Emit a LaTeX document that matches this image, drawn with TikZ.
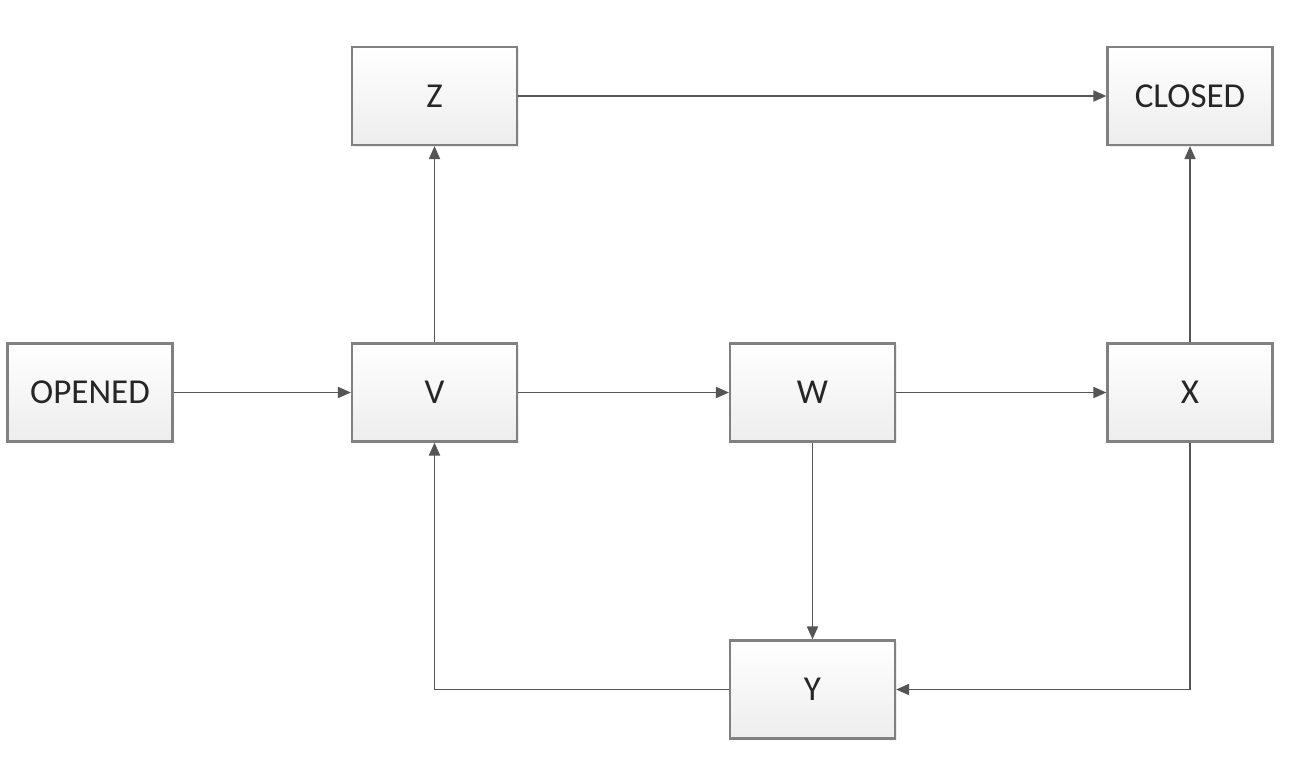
\documentclass[tikz,border=0pt]{standalone}
\usepackage{fontspec}
\setmainfont{Carlito}
\usetikzlibrary{arrows.meta,shadows}
\definecolor{boxline}{HTML}{808080}
\definecolor{arrline}{HTML}{555555}
\tikzset{
  statebox/.style={draw=boxline, line width=2.2pt, minimum width=165pt, minimum height=98pt,
    top color=white, bottom color=black!7, inner sep=0pt,
    font=\fontsize{35}{40}\selectfont, text=black!85,
    drop shadow={shadow xshift=1.5pt, shadow yshift=-1.5pt, opacity=0.15}},
  conn/.style={draw=arrline, line width=1.9pt, -{Triangle[length=13pt,width=11pt]}}
}
\begin{document}
\begin{tikzpicture}[x=1pt,y=-1pt]
\useasboundingbox (0,0) rectangle (1292,763);
\node[statebox] (Z) at (434.5,96) {Z};
\node[statebox] (C) at (1190,96) {CLOSED};
\node[statebox] (O) at (90,392.5) {OPENED};
\node[statebox] (V) at (434.5,392.5) {V};
\node[statebox] (W) at (812.5,392.5) {W};
\node[statebox] (X) at (1190,392.5) {X};
\node[statebox] (Y) at (812.5,689.5) {Y};
\draw[conn] (O) -- (V);
\draw[conn] (V) -- (W);
\draw[conn] (W) -- (X);
\draw[conn] (V) -- (Z);
\draw[conn] (Z) -- (C);
\draw[conn] (X) -- (C);
\draw[conn] (W) -- (Y);
\draw[conn] (X.south) |- (Y.east);
\draw[conn] (Y.west) -| (V.south);
\end{tikzpicture}
\end{document}
